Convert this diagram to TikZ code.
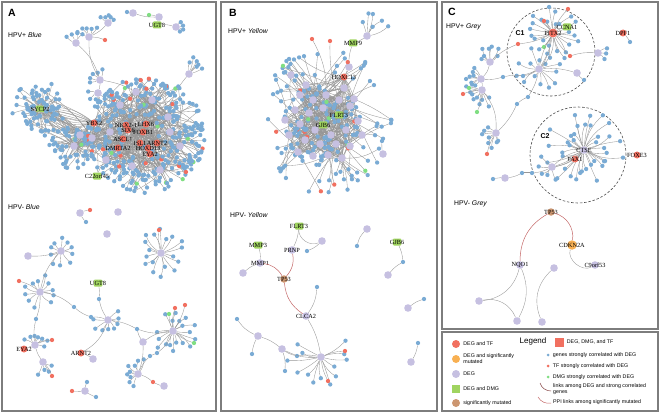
\documentclass[tikz,border=0pt]{standalone}
\usepackage{fontspec}
\setmainfont{Liberation Serif}
\setsansfont{Liberation Sans}
\usetikzlibrary{calc,positioning}
\definecolor{geneblue}{RGB}{122,171,212}
\definecolor{deglav}{RGB}{198,192,225}
\definecolor{tfred}{RGB}{241,112,96}
\definecolor{dmggreen}{RGB}{160,212,96}
\definecolor{dmgdot}{RGB}{128,222,130}
\definecolor{mutorange}{RGB}{248,176,82}
\definecolor{mutbrown}{RGB}{204,150,112}
\definecolor{linkgray}{RGB}{150,150,150}
\definecolor{ppired}{RGB}{196,104,104}
\definecolor{framegray}{RGB}{125,125,125}

\newcommand{\spokeedges}[6]{%
  \foreach \k in {1,...,#2}{%
    \pgfmathsetmacro\ang{#5+(#6-#5)/#2*(\k-0.5)+12*rnd-6}%
    \pgfmathsetmacro\rad{#3+(#4-#3)*rnd}%
    \pgfmathsetmacro\bnd{36*rnd-18}%
    \coordinate (#1-\k) at ($(#1)+(\ang:\rad)$);
    \draw[link] (#1) to[bend left=\bnd] (#1-\k);
  }}
\newcommand{\spokedots}[2]{%
  \foreach \k in {1,...,#2}{\node[gene] (#1-\k-n) at (#1-\k) {};}}
\newcommand{\spokes}[6]{\spokeedges{#1}{#2}{#3}{#4}{#5}{#6}\spokedots{#1}{#2}}

\newcommand{\hairedges}[9]{%
  \foreach \k in {1,...,#8}{%
    \pgfmathsetmacro\ang{360*rnd}%
    \pgfmathsetmacro\rr{#9+(1-#9)*sqrt(rnd)}%
    \pgfmathsetmacro\px{#4+#6*\rr*cos(\ang)}%
    \pgfmathsetmacro\py{#5+#7*\rr*sin(\ang)}%
    \pgfmathrandominteger{\ha}{1}{#3}%
    \pgfmathsetmacro\bnd{44*rnd-22}%
    \coordinate (#1-\k) at (\px,\py);
    \draw[link] (#2-h\ha) to[bend left=\bnd] (#1-\k);
  }}
\newcommand{\hairdots}[2]{%
  \foreach \k in {1,...,#2}{%
    \pgfmathtruncatemacro\kc{mod(\k*37+11,100)}%
    \ifnum\kc<6 \def\st{tfdot}\else\ifnum\kc<9 \def\st{dmgdot}\else\def\st{gene}\fi\fi
    \node[\st] (#1-\k-n) at (#1-\k) {};
  }}

\newcommand{\tangle}[3]{%
  \foreach \k in {1,...,#3}{%
    \pgfmathrandominteger{\ha}{1}{#2}%
    \pgfmathrandominteger{\hb}{1}{#2}%
    \pgfmathsetmacro\bnd{40*rnd-20}%
    \ifnum\ha=\hb\else\draw[link] (#1-h\ha) to[bend left=\bnd] (#1-h\hb);\fi
  }}

\def\Ahubs{1/80/135/deg/, 2/92/138/deg/, 3/74/146/deg/, 4/94/123/degtf/YBX2,
  5/126/125/degtf/NKX2-1, 6/146/124/degtf/LHX6, 7/128/130/degtf/SIX6, 8/143/132/degtf/FOXB1,
  9/123/139/degtf/ASCL1, 10/140/143/degtf/ISL1, 11/157/143/degtf/ARNT2, 12/118/148/degtf/DMRTA2,
  13/148/148/degtf/HOXD13, 14/150/154/degtf/EYA2, 15/120/105/deg/, 16/152/100/deg/, 17/168/117/deg/,
  18/180/146/deg/, 19/160/170/deg/, 20/132/166/deg/, 21/106/160/deg/, 22/136/92/deg/, 23/110/132/deg/, 24/170/132/deg/}
\def\Bhubs{1/300/95/deg/, 2/313/100/deg/, 3/326/95/deg/, 4/339/100/deg/, 5/295/110/deg/,
  6/309/113/deg/, 7/323/108/deg/, 8/350/106/deg/, 9/300/124/deg/, 10/315/130/deg/, 11/331/135/deg/,
  12/346/130/deg/, 13/305/140/deg/, 14/320/144/deg/, 15/336/144/deg/, 16/350/146/deg/, 17/298/152/deg/,
  18/313/156/deg/, 19/289/135/deg/, 20/358/121/deg/, 21/344/88/deg/, 22/354/99/deg/,
  23/339/115/degdmg/FLRT3, 24/323/125/degdmg/GJB6, 25/344/77/degtf/HOXC13,
  26/285/120/deg/, 27/328/155/deg/, 28/362/135/deg/, 29/306/85/deg/, 30/342/158/deg/}

\begin{document}
\begin{tikzpicture}[
    x=1pt, y=-1pt,
    gene/.style={circle, fill=geneblue, inner sep=0pt, minimum size=4.3pt},
    tfdot/.style={circle, fill=tfred, inner sep=0pt, minimum size=4.3pt},
    dmgdot/.style={circle, fill=dmgdot, inner sep=0pt, minimum size=4.3pt},
    deg/.style={circle, fill=deglav, inner sep=0pt, minimum size=7.6pt},
    degtf/.style={circle, fill=tfred, inner sep=0pt, minimum size=7pt},
    degdmg/.style={rectangle, fill=dmggreen, rounded corners=1pt, inner sep=0pt, minimum width=8.5pt, minimum height=7pt},
    degmut/.style={circle, fill=mutorange, inner sep=0pt, minimum size=9.5pt},
    sigmut/.style={circle, fill=mutbrown, inner sep=0pt, minimum size=7.5pt},
    link/.style={draw=linkgray, line width=0.35pt},
    ppi/.style={draw=ppired, line width=0.5pt},
    gname/.style={font=\fontsize{6.3}{7}\selectfont, inner sep=0pt},
    panel/.style={draw=framegray, line width=1.1pt},
    letter/.style={font=\sffamily\bfseries\fontsize{10.5}{12}\selectfont},
    subtitle/.style={font=\sffamily\fontsize{6.8}{8}\selectfont, anchor=west, inner sep=0pt},
    ring/.style={draw=black!70, dash pattern=on 2.5pt off 1.8pt, line width=0.6pt, circle, inner sep=0pt},
    legtext/.style={font=\sffamily\fontsize{5.3}{6.2}\selectfont, inner sep=0pt, align=left}
]
\useasboundingbox (0,0) rectangle (660,414);
\pgfmathsetseed{42}

\node[letter] (lettA) at (12,13) {A};
\node[letter] (lettB) at (233,13) {B};
\node[letter] (lettC) at (452,12) {C};
\node[subtitle] (subA1) at (8,35) {HPV+ \textit{Blue}};
\node[subtitle] (subA2) at (8,207) {HPV- \textit{Blue}};
\node[subtitle] (subB1) at (228,31) {HPV+ \textit{Yellow}};
\node[subtitle] (subB2) at (230,215) {HPV- \textit{Yellow}};
\node[subtitle] (subC1) at (446,27) {HPV+ \textit{Grey}};
\node[subtitle] (subC2) at (454,204) {HPV- \textit{Grey}};

% A, HPV+
\foreach \n/\x/\y/\s/\t in \Ahubs {\coordinate (Ap-h\n) at (\x,\y);}
\tangle{Ap}{24}{90}
\node[degdmg] (sycp2) at (40,109) {};
\spokeedges{sycp2}{72}{6}{29}{0}{360}
\foreach \k in {2,5,...,72}{%
  \pgfmathrandominteger{\ha}{1}{4}\pgfmathsetmacro\bnd{40*rnd-20}%
  \draw[link] (sycp2-\k) to[bend left=\bnd] (Ap-h\ha);}
\foreach \b in {-24,-16,...,24}{\draw[link] (sycp2) to[bend left=\b] (Ap-h4);\draw[link] (sycp2) to[bend left=\b] (Ap-h1);}
\hairedges{Ad}{Ap}{24}{146}{135}{59}{58}{330}{0.15}
\hairedges{Al}{Ap}{4}{72}{148}{23}{21}{60}{0.2}

\node[deg] (a-t1) at (108,23) {}; \spokes{a-t1}{5}{6}{10}{200}{340}
\node[deg] (a-t2) at (89,37) {}; \spokes{a-t2}{5}{8}{13}{190}{330}
\node[deg] (a-t3) at (76,43) {}; \spokes{a-t3}{4}{9}{13}{200}{320}
\node[tfdot] (a-t2r) at (105,40) {};
\node[deg] (a-t4) at (133,13) {};
\node[gene] (a-t4d) at (127,12) {};
\node[dmgdot] (a-t5g) at (149,15) {};
\node[deg] (a-t5) at (159,17) {};
\node[degdmg, label={[gname]center:UGT8}] (a-ugt8) at (157,25) {};
\node[deg] (a-t6) at (176,27) {}; \spokes{a-t6}{4}{5}{9}{300}{420}
\node[deg] (a-t7) at (100,80) {}; \spokes{a-t7}{5}{7}{12}{150}{300}
\node[deg] (a-t8) at (98,93) {}; \spokes{a-t8}{4}{6}{10}{60}{200}
\node[deg] (a-t9) at (189,74) {}; \spokes{a-t9}{6}{8}{18}{270}{340}
\node[degdmg] (a-c22) at (97,176) {};
\foreach \a/\b/\t in {a-t8/Ap-h15/-10, a-t8/Ap-h4/15, a-t7/Ap-h22/10, a-t9/Ap-h17/-15,
  a-c22/Ap-h21/10, a-c22/Ap-h2/-15}
  {\draw[link] (\a) to[bend left=\t] (\b);}
\spokedots{sycp2}{72}
\hairdots{Ad}{330}
\hairdots{Al}{60}
\foreach \n/\x/\y/\s/\t in \Ahubs {\node[\s, label={[gname]center:\t}] (Ap-n\n) at (Ap-h\n) {};}
\node[gname] (sycp2l) at (sycp2) {SYCP2};
\node[gname] (a-c22l) at (a-c22) {C22orf45};

% A, HPV-
\node[deg] (a-b1) at (61,251) {}; \spokes{a-b1}{10}{10}{17}{0}{360}
\node[deg] (a-b2) at (28,256) {};
\node[deg] (a-b3) at (161,253) {}; \spokes{a-b3}{18}{12}{25}{0}{360}
\node[tfdot] (a-b3r) at (159,230) {};
\node[deg] (a-b4) at (40,292) {}; \spokes{a-b4}{11}{10}{18}{100}{420}
\node[tfdot] (a-b4r) at (19,281) {};
\node[degdmg, label={[gname]center:UGT8}] (a-b5) at (98,283) {};
\node[gene] (a-b5d) at (99,299) {};
\node[deg] (a-b6) at (108,320) {}; \spokes{a-b6}{8}{9}{16}{-60}{200}
\node[gene] (a-c1) at (74,307) {};
\node[gene] (a-c2) at (91,317) {};
\node[deg] (a-b7) at (173,331) {}; \spokes{a-b7}{18}{10}{24}{-120}{180}
\node[dmgdot] (a-b7g1) at (169,314) {};
\node[dmgdot] (a-b7g2) at (194,343) {};
\node[tfdot] (a-b7r1) at (175,308) {};
\node[tfdot] (a-b7r2) at (185,305) {};
\node[gene] (a-c3) at (137,329) {};
\node[deg] (a-b8) at (143,342) {};
\node[gene] (a-c4) at (150,356) {};
\node[gene] (a-c5) at (157,353) {};
\node[deg] (a-b9) at (138,374) {}; \spokes{a-b9}{9}{8}{16}{100}{300}
\node[tfdot] (a-b9r) at (153,382) {};
\node[deg] (a-b10) at (164,386) {};
\node[deg] (a-b12) at (35,345) {}; \spokes{a-b12}{7}{8}{14}{200}{380}
\node[degtf, label={[gname]center:EYA2}] (a-b11) at (24,349) {};
\node[tfdot] (a-b12r) at (52,340) {};
\node[gene] (a-c6) at (36,319) {};
\node[deg] (a-b13) at (43,362) {}; \spokes{a-b13}{4}{8}{14}{10}{130}
\node[tfdot] (a-b13r) at (52,376) {};
\node[degtf, label={[gname]center:ARNT2}] (a-b14) at (81,353) {};
\node[deg] (a-b15) at (93,359) {};
\node[deg] (a-b16) at (85,391) {};
\node[tfdot] (a-b16r) at (72,391) {};
\node[gene] (a-b16d1) at (87,382) {};
\node[gene] (a-b16d2) at (96,397) {};
\node[deg] (a-b17) at (107,234) {};
\node[deg] (a-b18) at (80,213) {};
\node[tfdot] (a-b18r) at (90,210) {};
\node[gene] (a-b18d) at (86,222) {};
\node[deg] (a-b19) at (118,212) {};

% B, HPV+
\foreach \n/\x/\y/\s/\t in \Bhubs {\coordinate (Bp-h\n) at (\x,\y);}
\tangle{Bp}{30}{160}
\hairedges{Bc}{Bp}{30}{322}{125}{40}{42}{130}{0}
\hairedges{Bo}{Bp}{30}{325}{120}{68}{74}{75}{0.6}
\node[degdmg] (b-mmp9) at (353,43) {};
\node[deg] (b-t1) at (367,36) {}; \spokes{b-t1}{6}{8}{25}{250}{340}
\node[deg] (b-t2) at (349,67) {};
\node[deg] (b-t3) at (291,75) {};
\node[tfdot] (b-r1) at (312,39) {};
\node[tfdot] (b-r2) at (330,41) {};
\node[deg] (b-t4) at (383,154) {};
\node[gene] (b-t4d) at (382,141) {};
\foreach \a/\b/\t in {b-t2/Bp-h25/10, b-t2/Bp-h21/-15, b-r1/Bp-h3/15, b-r2/Bp-h4/-10,
  b-t3/Bp-h1/10, b-t3/Bp-h5/-15, Bp-h25/Bp-h21/10, Bp-h25/Bp-h22/-10}
  {\draw[link] (\a) to[bend left=\t] (\b);}
\hairdots{Bc}{130}
\hairdots{Bo}{75}
\foreach \n/\x/\y/\s/\t in \Bhubs {\node[\s, label={[gname]center:\t}] (Bp-n\n) at (Bp-h\n) {};}
\node[gname] (b-mmp9l) at (b-mmp9) {MMP9};

% B, HPV-
\node[degdmg, label={[gname]center:FLRT3}] (b-flrt3) at (299,226) {};
\node[deg] (b-u1) at (322,241) {};
\node[gene] (b-u1d) at (307,251) {};
\node[deg] (b-u2) at (367,229) {};
\node[gene] (b-u2d) at (357,246) {};
\node[degdmg, label={[gname]center:GJB6}] (b-gjb6) at (397,242) {};
\node[gene] (b-u3d) at (403,262) {};
\node[deg] (b-u3) at (388,275) {};
\node[degdmg, label={[gname]center:MMP3}] (b-mmp3) at (258,245) {};
\node[deg, label={[gname]center:MMP1}] (b-mmp1) at (260,263) {};
\node[deg, label={[gname]center:PRNP}] (b-prnp) at (292,250) {};
\node[deg] (b-u4) at (243,273) {};
\node[sigmut, label={[gname]center:TP53}] (b-tp53) at (284,279) {};
\node[deg, label={[gname]center:CLCA2}] (b-clca2) at (306,316) {};
\node[gene] (b-u5d) at (317,287) {};
\node[deg] (b-h1) at (321,357) {}; \spokes{b-h1}{13}{16}{34}{-40}{220}
\node[tfdot] (b-h1r1) at (345,351) {};
\node[tfdot] (b-h1r2) at (328,381) {};
\node[deg] (b-h2) at (282,349) {};
\node[deg] (b-h3) at (258,336) {};
\node[gene] (b-d1) at (237,319) {};
\node[gene] (b-d2) at (252,354) {};
\node[gene] (b-d3) at (285,371) {};
\node[gene] (b-d4) at (297,356) {};
\node[deg] (b-u6) at (408,308) {};
\node[gene] (b-u6d) at (424,299) {};
\node[deg] (b-u7) at (411,362) {};
\node[gene] (b-u7d) at (418,343) {};

% C, HPV+
\node[ring, minimum size=88pt] (c1ring) at (551,52) {};
\node[font=\sffamily\bfseries\fontsize{7}{8}\selectfont] (c1lab) at (520,33) {C1};
\node[degtf, minimum size=9pt] (c-pitx2) at (553,33) {};
\spokes{c-pitx2}{24}{9}{28}{0}{360}
\node[deg] (c-h1) at (539,69) {}; \spokes{c-h1}{14}{8}{24}{0}{360}
\node[degdmg] (c-ccna1) at (567,27) {};
\node[gname] (c-pitx2l) at (c-pitx2) {PITX2};
\node[gname] (c-ccna1l) at (c-ccna1) {CCNA1};
\node[tfdot] (c-r1) at (518,44) {};
\node[tfdot] (c-r2) at (570,56) {};
\node[tfdot] (c-r3) at (568,9) {};
\node[tfdot] (c-r4) at (544,21) {};
\node[dmgdot] (c-g1) at (544,47) {};
\node[deg] (c-h2) at (598,53) {}; \spokes{c-h2}{3}{8}{12}{-50}{60}
\node[deg] (c-h3) at (577,73) {};
\node[gene] (c-h3d) at (584,80) {};
\node[degtf, label={[gname]center:DPF1}] (c-dpf1) at (623,33) {};
\node[gene] (c-dpf1d) at (630,42) {};
\node[deg] (c-h4) at (490,62) {}; \spokes{c-h4}{7}{8}{16}{190}{330}
\node[deg] (c-h5) at (481,79) {}; \spokes{c-h5}{8}{8}{16}{120}{250}
\node[deg] (c-h6) at (482,90) {}; \spokes{c-h6}{9}{8}{18}{40}{200}
\node[deg] (c-h7) at (496,133) {}; \spokes{c-h7}{8}{8}{16}{60}{220}
\node[dmgdot] (c-g2) at (469,88) {};
\node[dmgdot] (c-g3) at (477,112) {};
\node[tfdot] (c-r5) at (463,94) {};
\node[tfdot] (c-r6) at (487,154) {};
\node[gene] (c-d1) at (528,97) {};
\node[gene] (c-d2) at (517,104) {};
\node[gene] (c-d3) at (503,77) {};
\node[gene] (c-d4) at (523,76) {};
\node[ring, minimum size=96pt] (c2ring) at (578,155) {};
\node[font=\sffamily\bfseries\fontsize{7}{8}\selectfont] (c2lab) at (545,136) {C2};
\node[deg] (c-ctse) at (584,150) {}; \spokes{c-ctse}{38}{14}{40}{0}{360}
\node[degtf] (c-pax1) at (575,159) {};
\node[gname] (c-ctsel) at (c-ctse) {CTSE};
\node[gname] (c-pax1l) at (c-pax1) {PAX1};
\node[deg] (c-h8) at (552,167) {}; \spokes{c-h8}{5}{8}{15}{60}{240}
\node[deg] (c-h9) at (505,178) {};
\node[gene] (c-d5) at (493,179) {};
\node[gene] (c-d6) at (522,173) {};
\node[gene] (c-d7) at (532,173) {};
\node[degtf, label={[gname]center:FOXE3}] (c-foxe3) at (637,155) {};

% C, HPV-
\node[sigmut, label={[gname]center:TP53}] (c-tp53) at (551,212) {};
\node[degmut, label={[gname]center:CDKN2A}] (c-cdkn2a) at (572,245) {};
\node[deg, label={[gname]center:C9orf53}] (c-c9) at (595,265) {};
\node[deg, label={[gname]center:NQO1}] (c-nqo1) at (520,265) {};
\node[deg] (c-u1) at (554,268) {};
\node[deg] (c-u2) at (479,301) {};
\node[deg] (c-u3) at (517,321) {};
\node[deg] (c-u4) at (542,322) {};

\foreach \a/\b/\t in {a-t4/a-t4d/10, a-t5g/a-t5/10, a-t5/a-ugt8/-10, a-ugt8/a-t6/10, a-t4/a-t5/-10,
  a-t2/a-t2r/10, a-t2/a-t7/-15, a-t3/a-t7/15, a-t1/a-t2/10, a-t7/a-t8/10,
  a-b1/a-b2/10, a-b1/a-b4/-15, a-b3/a-b3r/10, a-b4/a-b4r/-10, a-b4/a-c1/15, a-c1/a-c2/-10, a-c2/a-b6/10,
  a-b5/a-b5d/10, a-b5d/a-b6/-10, a-b6/a-c3/10, a-c3/a-b8/-10, a-b8/a-b7/15, a-c3/a-b7/-15,
  a-b7/a-b7g1/10, a-b7/a-b7g2/-10, a-b7/a-b7r1/10, a-b7/a-b7r2/-10, a-b7/a-c5/15, a-c5/a-c4/0, a-c4/a-b9/-10,
  a-b8/a-b9/10, a-b9/a-b9r/10, a-b9r/a-b10/-10, a-b4/a-c6/10, a-c6/a-b12/-10, a-b12/a-b11/0,
  a-b12/a-b12r/10, a-b12/a-b13/-10, a-b13/a-b13r/10, a-b14/a-b6/-20, a-b14/a-b15/10,
  a-b16/a-b16r/10, a-b16/a-b16d1/10, a-b16/a-b16d2/-10, a-b18/a-b18r/10, a-b18/a-b18d/-10,
  b-t1/b-mmp9/10, b-mmp9/b-t2/-10, b-t4/b-t4d/10,
  b-flrt3/b-prnp/10, b-flrt3/b-u1/-60, b-u1/b-u1d/10, b-u2/b-u2d/-15, b-gjb6/b-u3d/10, b-u3d/b-u3/-10,
  b-mmp3/b-mmp1/10, b-mmp1/b-u4/-10, b-clca2/b-u5d/-15, b-clca2/b-h1/10,
  b-h1/b-h1r1/10, b-h1/b-h1r2/-10, b-h1/b-h2/15, b-h2/b-h3/-10, b-h3/b-d1/15, b-h3/b-d2/-10,
  b-h2/b-d3/10, b-h2/b-d4/-10, b-d4/b-h1/10, b-u6/b-u6d/10, b-u7/b-u7d/-10,
  c-pitx2/c-ccna1/10, c-pitx2/c-h1/10, c-pitx2/c-h1/-10, c-pitx2/c-h1/25, c-pitx2/c-r1/10,
  c-pitx2/c-r2/-10, c-pitx2/c-r3/10, c-pitx2/c-r4/-10, c-pitx2/c-g1/10, c-r1/c-h4/-10, c-r2/c-h2/10,
  c-h1/c-h3/10, c-h3/c-h3d/-10, c-dpf1/c-dpf1d/10, c-h4/c-h5/15, c-h5/c-h6/10, c-h6/c-g2/10,
  c-h6/c-r5/-10, c-h6/c-g3/10, c-h7/c-r6/-10, c-h1/c-d1/10, c-d1/c-d2/-10, c-d2/c-h7/10,
  c-h5/c-d3/-10, c-d3/c-d4/10, c-d4/c-h1/-10, c-ctse/c-pax1/10, c-ctse/c-h8/10, c-ctse/c-h8/-15,
  c-pax1/c-h8/10, c-h8/c-d7/10, c-d7/c-d6/-10, c-d6/c-h9/10, c-h9/c-d5/-10, c-h6/c-h7/20,
  c-cdkn2a/c-c9/-70, c-nqo1/c-u2/35, c-nqo1/c-u3/25, c-u2/c-u3/40, c-u1/c-u4/-35}
  {\draw[link] (\a) to[bend left=\t] (\b);}
\draw[ppi] (b-mmp1) to[bend left=25] (b-tp53);
\draw[ppi] (b-prnp) to[bend left=25] (b-tp53);
\draw[ppi] (b-tp53) to[bend right=25] (b-clca2);
\draw[ppi] (c-tp53) to[bend right=30] (c-nqo1);
\draw[ppi] (c-tp53) to[bend left=40] (c-cdkn2a);

% legend
\node[font=\sffamily\fontsize{8}{9}\selectfont] (lg-title) at (533,341) {Legend};
\node[degtf, minimum size=8pt] (lg-m1) at (456,344) {};
\node[legtext, right=3pt of lg-m1] (lg-t1) {DEG and TF};
\node[degmut, minimum size=8pt] (lg-m2) at (456,359) {};
\node[legtext, right=3pt of lg-m2] (lg-t2) {DEG and significantly\\mutated};
\node[deg, minimum size=8pt] (lg-m3) at (456,374) {};
\node[legtext, right=3pt of lg-m3] (lg-t3) {DEG};
\node[degdmg, rounded corners=0pt, minimum width=8pt, minimum height=8pt] (lg-m4) at (456,389) {};
\node[legtext, right=3pt of lg-m4] (lg-t4) {DEG and DMG};
\node[sigmut, minimum size=8pt] (lg-m5) at (456,403) {};
\node[legtext, right=3pt of lg-m5] (lg-t5) {significantly mutated};
\node[rectangle, fill=tfred, inner sep=0pt, minimum size=9pt] (lg-m6) at (559,342) {};
\node[legtext, right=3pt of lg-m6] (lg-t6) {DEG, DMG, and TF};
\node[gene, minimum size=3pt] (lg-m7) at (548,355) {};
\node[legtext, right=3pt of lg-m7] (lg-t7) {genes strongly correlated with DEG};
\node[tfdot, minimum size=3pt] (lg-m8) at (548,366) {};
\node[legtext, right=3pt of lg-m8] (lg-t8) {TF strongly correlated with DEG};
\node[dmgdot, minimum size=3pt] (lg-m9) at (548,377) {};
\node[legtext, right=3pt of lg-m9] (lg-t9) {DMG strongly correlated with DEG};
\coordinate (lg-a1) at (540,383);
\coordinate (lg-a2) at (551,391);
\draw[link, draw=ppired!70!black, line width=0.5pt] (lg-a1) to[bend right=35] (lg-a2);
\node[legtext, anchor=west] (lg-t10) at (553,389) {links among DEG and strong correlated\\genes};
\coordinate (lg-b1) at (538,397);
\coordinate (lg-b2) at (551,403);
\draw[ppi] (lg-b1) to[bend right=35] (lg-b2);
\node[legtext, anchor=west] (lg-t11) at (553,402) {PPI links among significantly mutated};

\draw[panel] (2,2) rectangle (216,411);
\draw[panel] (221,2) rectangle (437,411);
\draw[panel] (442,2) rectangle (658,329);
\draw[panel] (442,332) rectangle (658,411);
\end{tikzpicture}
\end{document}
